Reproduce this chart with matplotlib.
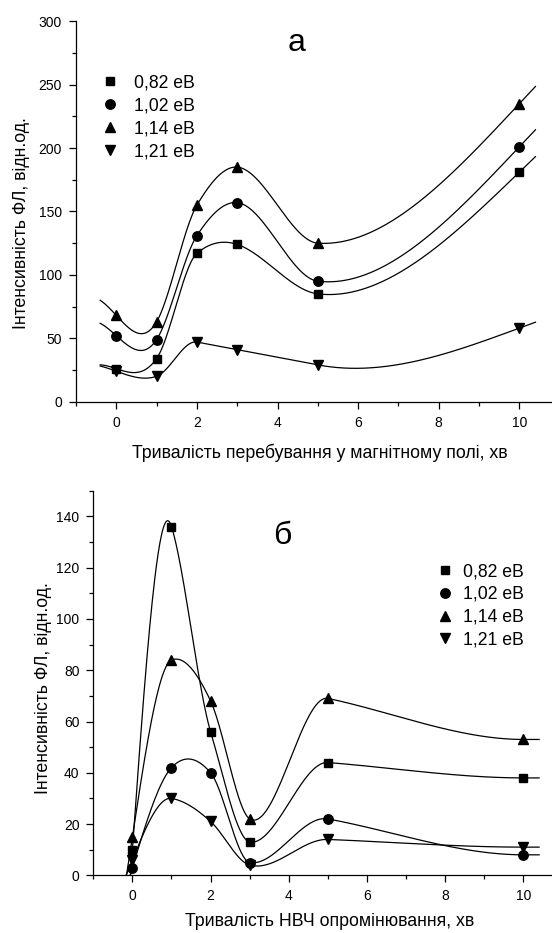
import numpy as np
import matplotlib
matplotlib.use('Agg')
import matplotlib.pyplot as plt
from matplotlib.ticker import MultipleLocator

plt.rcParams['font.family'] = ['Liberation Sans', 'DejaVu Sans']

# time points, min
t = [0, 1, 2, 3, 5, 10]
labels = ['0,82 eB', '1,02 eB', '1,14 eB', '1,21 eB']
markers = ['s', 'o', '^', 'v']
msizes = [6.0, 6.8, 7.6, 7.6]

# panel a: magnetic field exposure
mag_082 = [26, 34, 117, 124, 85, 181]
mag_102 = [52, 49, 131, 157, 95, 201]
mag_114 = [68, 63, 155, 185, 125, 235]
mag_121 = [24, 20, 47, 41, 29, 58]

# panel b: microwave irradiation
mw_082 = [10, 136, 56, 13, 44, 38]
mw_102 = [3, 42, 40, 5, 22, 8]
mw_114 = [15, 84, 68, 22, 69, 53]
mw_121 = [6, 30, 21, 4, 14, 11]


def smooth(x, y, xs, right='natural'):
    # Akima slopes inside, cubic Hermite pieces
    # right='natural' -> zero curvature at the last point
    # right='flat'    -> curve levels off at the last point
    x = np.asarray(x, float)
    y = np.asarray(y, float)
    n = len(x)
    h = np.diff(x)
    m = np.diff(y) / h
    mm = np.zeros(n + 3)
    mm[2:-2] = m
    mm[1] = 2 * m[0] - m[1]
    mm[0] = 2 * mm[1] - m[0]
    if right == 'flat':
        mm[-2] = m[-1]
        mm[-1] = m[-1]
    else:
        mm[-2] = 2 * m[-1] - m[-2]
        mm[-1] = 2 * mm[-2] - m[-1]
    d = np.zeros(n)
    for i in range(n):
        w1 = abs(mm[i + 3] - mm[i + 2])
        w2 = abs(mm[i + 1] - mm[i])
        if w1 + w2 == 0:
            d[i] = 0.5 * (mm[i + 1] + mm[i + 2])
        else:
            d[i] = (w1 * mm[i + 1] + w2 * mm[i + 2]) / (w1 + w2)
    d[0] = (3 * m[0] - d[1]) / 2
    if right == 'flat':
        d[-1] = 0.0
    else:
        d[-1] = (3 * m[-1] - d[-2]) / 2
    k = np.clip(np.searchsorted(x, xs) - 1, 0, n - 2)
    s = (xs - x[k]) / h[k]
    h00 = 2 * s**3 - 3 * s**2 + 1
    h10 = s**3 - 2 * s**2 + s
    h01 = -2 * s**3 + 3 * s**2
    h11 = s**3 - s**2
    out = h00 * y[k] + h10 * h[k] * d[k] + h01 * y[k + 1] + h11 * h[k] * d[k + 1]
    if right == 'flat':
        out = np.where(xs > x[-1], y[-1], out)
    return out


def panel(ax, series, xmax, ymax, ymaj, xlabel, letter, letter_xy,
          leg_xy, leg_pad, right):
    xs = np.linspace(-0.4, 10.4, 500)
    for vals, m, ms, lab in zip(series, markers, msizes, labels):
        ax.plot(xs, smooth(t, vals, xs, right), color='black', lw=0.9)
        ax.plot(t, vals, m, color='black', ms=ms, label=lab, ls='none')
    ax.set_xlim(-1, xmax)
    ax.set_ylim(0, ymax)
    ax.xaxis.set_major_locator(MultipleLocator(2))
    ax.xaxis.set_minor_locator(MultipleLocator(1))
    ax.yaxis.set_major_locator(MultipleLocator(ymaj))
    ax.yaxis.set_minor_locator(MultipleLocator(ymaj / 2))
    ax.tick_params(which='major', length=5, width=0.9, labelsize=10, pad=5)
    ax.tick_params(which='minor', length=3, width=0.9)
    for sp in ['top', 'right']:
        ax.spines[sp].set_visible(False)
    for sp in ['left', 'bottom']:
        ax.spines[sp].set_linewidth(0.9)
    ax.set_ylabel('Інтенсивність ФЛ, відн.од.', fontsize=12.8)
    ax.set_xlabel(xlabel, fontsize=12.8)
    ax.text(letter_xy[0], letter_xy[1], letter, fontsize=23,
            ha='center', va='center')
    ax.legend(loc='center left', bbox_to_anchor=leg_xy, frameon=False,
              fontsize=12.7, handletextpad=leg_pad, labelspacing=0.33,
              handlelength=1.2, borderaxespad=0)


fig = plt.figure(figsize=(5.52, 9.33), dpi=100)

ax1 = fig.add_axes([0.1377, 0.5695, 1 - 0.1377, 0.4077])
panel(ax1, [mag_082, mag_102, mag_114, mag_121], 10.81, 300, 50,
      'Тривалість перебування у магнітному полі, хв', 'а', (4.48, 282.6),
      (0.0345, 0.7476), 0.76, 'natural')
ax1.yaxis.set_label_coords(-0.0966, 0.47)
ax1.xaxis.set_label_coords(0.5115, -0.111)

ax2 = fig.add_axes([0.169, 0.0618, 1 - 0.169, 0.4122])
panel(ax2, [mw_082, mw_102, mw_114, mw_121], 10.73, 150, 20,
      'Тривалість НВЧ опромінювання, хв', 'б', (3.84, 132.2),
      (0.729, 0.7008), 0.4, 'flat')
ax2.yaxis.set_label_coords(-0.09, 0.488)
ax2.xaxis.set_label_coords(0.516, -0.097)

fig.savefig('out.png', dpi=100)
